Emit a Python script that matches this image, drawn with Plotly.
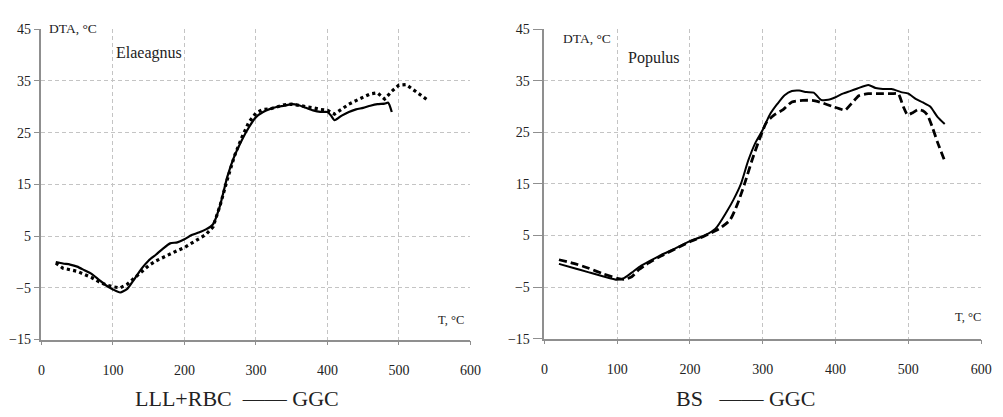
import plotly.graph_objects as go

# Left panel: Elaeagnus
el_ggc_T = [20, 30, 40, 50, 60, 70, 80, 90, 100, 110, 120, 130, 140, 150, 160, 170, 180, 190, 200,
            210, 220, 230, 240, 250, 260, 270, 280, 290, 300, 310, 320, 330, 340, 350, 360, 370,
            380, 390, 400, 405, 410, 420, 430, 440, 450, 460, 470, 480, 485, 490]
el_ggc_v = [0.0, -0.3, -0.5, -0.9, -1.6, -2.3, -3.4, -4.5, -5.3, -5.9, -5.2, -3.3, -1.3, 0.3, 1.4, 2.6, 3.6, 3.8, 4.4,
            5.2, 5.7, 6.3, 7.3, 11.0, 16.5, 20.5, 23.5, 26.0, 28.0, 29.0, 29.6, 30.0, 30.2, 30.5, 30.3, 29.8,
            29.3, 29.0, 29.0, 28.3, 27.4, 28.3, 29.0, 29.5, 29.8, 30.2, 30.5, 30.6, 30.8, 29.0]

el_lll_T = [20, 30, 40, 50, 60, 70, 80, 90, 100, 110, 120, 130, 140, 150, 160, 170, 180, 190, 200,
            210, 220, 230, 240, 250, 260, 270, 280, 290, 300, 310, 320, 330, 340, 350, 360, 370,
            380, 390, 400, 410, 420, 430, 440, 450, 460, 470, 480, 490, 500, 510, 520, 530, 540]
el_lll_v = [-0.2, -1.2, -1.5, -1.8, -2.4, -3.0, -3.8, -4.4, -4.8, -5.0, -4.3, -3.1, -1.9, -0.7, 0.2, 0.9, 1.5, 2.2, 2.8,
            3.6, 4.4, 5.3, 6.8, 11.0, 16.0, 20.5, 24.0, 27.0, 28.8, 29.5, 29.6, 30.0, 30.4, 30.5, 30.3, 30.0,
            29.8, 29.5, 29.3, 28.6, 29.6, 30.5, 31.2, 31.9, 32.5, 32.7, 31.5, 33.0, 34.2, 34.3, 33.3, 32.3, 31.3]

# Right panel: Populus
po_ggc_T = [20, 40, 60, 80, 100, 110, 120, 130, 140, 160, 180, 200, 220, 235, 250, 260, 270, 280, 290,
            300, 310, 320, 330, 340, 350, 360, 370, 380, 390, 400, 410, 420, 430, 445, 455, 465, 477,
            490, 500, 510, 520, 530, 540, 550]
po_ggc_v = [-0.5, -1.3, -2.1, -2.9, -3.6, -3.2, -2.2, -1.1, -0.3, 1.2, 2.5, 3.9, 5.0, 6.3, 9.5, 12.0, 15.0, 19.5, 23.0,
            25.5, 28.5, 30.5, 32.2, 33.0, 33.1, 32.8, 32.7, 31.3, 31.3, 31.8, 32.5, 33.0, 33.5, 34.2, 33.6, 33.4, 33.4,
            32.8, 32.5, 31.5, 30.8, 30.0, 28.0, 26.6]

po_bs_T = [20, 40, 60, 80, 100, 110, 120, 130, 140, 160, 180, 200, 220, 240, 255, 265, 275, 285, 295,
           305, 315, 328, 340, 355, 368, 380, 396, 405, 413, 422, 432, 445, 460, 477, 486, 493, 499,
           506, 513, 520, 526, 533, 540, 551]
po_bs_v = [0.3, -0.4, -1.3, -2.4, -3.3, -3.5, -3.0, -1.6, -0.6, 1.0, 2.4, 3.8, 4.9, 6.3, 8.0, 11.0, 15.0, 19.5, 23.5,
           26.9, 28.3, 29.4, 30.9, 31.2, 31.2, 30.8, 30.0, 29.6, 29.3, 30.6, 32.1, 32.5, 32.5, 32.5, 32.5, 30.0, 28.4,
           28.8, 29.4, 29.2, 28.4, 26.0, 23.1, 19.1]

x_ticks = [0, 100, 200, 300, 400, 500, 600]
y_ticks = [-15, -5, 5, 15, 25, 35, 45]

SERIF = "Liberation Serif, Times New Roman, serif"

fig = go.Figure()

fig.add_trace(go.Scatter(x=el_lll_T, y=el_lll_v, mode="lines", name="LLL+RBC",
                         line=dict(color="black", width=3.2, dash="dot"), xaxis="x", yaxis="y"))
fig.add_trace(go.Scatter(x=el_ggc_T, y=el_ggc_v, mode="lines", name="GGC",
                         line=dict(color="black", width=2.2, shape="spline", smoothing=0.6), xaxis="x", yaxis="y"))
fig.add_trace(go.Scatter(x=po_bs_T, y=po_bs_v, mode="lines", name="BS",
                         line=dict(color="black", width=2.8, dash="8px,4px", shape="spline", smoothing=0.6),
                         xaxis="x2", yaxis="y2"))
fig.add_trace(go.Scatter(x=po_ggc_T, y=po_ggc_v, mode="lines", name="GGC",
                         line=dict(color="black", width=2.0, shape="spline", smoothing=0.6), xaxis="x2", yaxis="y2"))

axis_common = dict(
    showgrid=True, gridcolor="#c4c4c4", griddash="4px,3px", gridwidth=1,
    showline=True, linecolor="#8f8f8f", linewidth=1.5,
    ticks="outside", tickcolor="#8f8f8f", tickwidth=1,
    tickfont=dict(family=SERIF, size=14, color="#222"),
    zeroline=False, fixedrange=True,
)

fig.update_layout(
    width=1003, height=417,
    margin=dict(l=0, r=0, t=0, b=0),
    paper_bgcolor="white", plot_bgcolor="white",
    showlegend=False,
    xaxis=dict(domain=[0.0379, 0.4716], range=[0, 600], tickvals=x_ticks, ticklen=4,
               ticklabelstandoff=13, anchor="y", **axis_common),
    yaxis=dict(domain=[0.1727, 0.9448], range=[-15, 45], tickvals=y_ticks, ticklen=6,
               anchor="x", **axis_common),
    xaxis2=dict(domain=[0.5464, 0.988], range=[0, 600], tickvals=x_ticks, ticklen=4,
                ticklabelstandoff=13, anchor="y2", **axis_common),
    yaxis2=dict(domain=[0.1750, 0.9448], range=[-15, 45], tickvals=y_ticks, ticklen=10,
                anchor="x2", **axis_common),
)

ann_font = dict(family=SERIF, color="#222")
annotations = [
    dict(text="DTA, °C", x=45, y=22, xanchor="left", font=dict(size=13.5, **ann_font), bgcolor="white"),
    dict(text="Elaeagnus", x=113, y=48, xanchor="left", font=dict(size=16, **ann_font)),
    dict(text="T, °C", x=468, y=325, xanchor="right", font=dict(size=12.5, **ann_font)),
    dict(text="DTA, °C", x=566, y=33, xanchor="left", font=dict(size=13.5, **ann_font)),
    dict(text="Populus", x=632, y=53, xanchor="left", font=dict(size=16, **ann_font)),
    dict(text="T, °C", x=992, y=322, xanchor="right", font=dict(size=12.5, **ann_font)),
    dict(text="LLL+RBC  \u2014\u2014 GGC", x=132, y=406, xanchor="left", font=dict(size=22, **ann_font)),
    dict(text="BS   \u2014\u2014 GGC", x=680, y=406, xanchor="left", font=dict(size=22, **ann_font)),
]
for a in annotations:
    fig.add_annotation(xref="paper", yref="paper", x=a["x"] / 1003, y=1 - a["y"] / 417,
                       xanchor=a["xanchor"], yanchor="middle", text=a["text"], showarrow=False,
                       font=a["font"], bgcolor=a.get("bgcolor", "rgba(0,0,0,0)"), borderpad=0)

fig.write_html("out.html")
